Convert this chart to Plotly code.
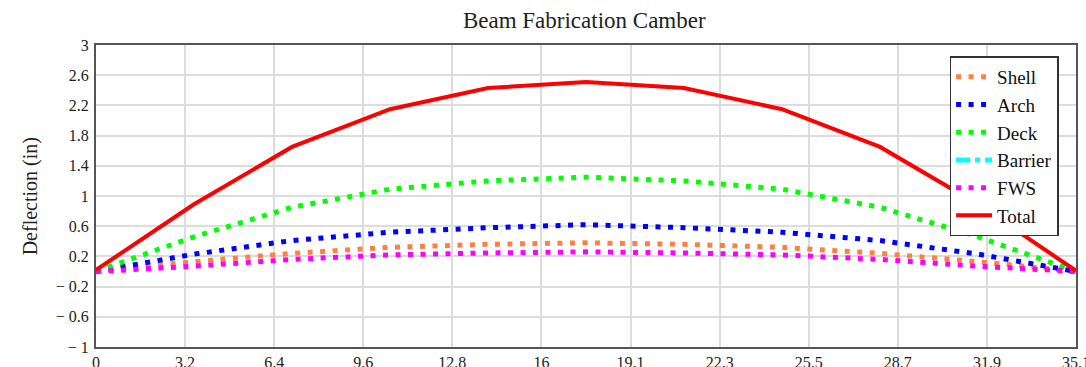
import plotly.graph_objects as go

# ---- data ----
stations = [0.0, 3.51, 7.02, 10.53, 14.04, 17.55, 21.06, 24.57, 28.08, 31.59, 35.1]
shell = [0.0, 0.13, 0.24, 0.32, 0.36, 0.38, 0.36, 0.32, 0.24, 0.13, 0.0]
arch = [0.0, 0.23, 0.41, 0.52, 0.58, 0.62, 0.58, 0.52, 0.41, 0.23, 0.0]
deck = [0.0, 0.46, 0.85, 1.09, 1.20, 1.25, 1.20, 1.09, 0.85, 0.46, 0.0]
barrier = [None] * 11
fws = [0.0, 0.07, 0.16, 0.22, 0.245, 0.26, 0.245, 0.22, 0.16, 0.07, 0.0]
total = [0.02, 0.89, 1.65, 2.15, 2.43, 2.51, 2.43, 2.15, 1.65, 0.89, 0.01]

x_tickvals = [i * 35.1 / 11 for i in range(12)]
x_ticktext = ["0", "3.2", "6.4", "9.6", "12.8", "16", "19.1", "22.3", "25.5", "28.7", "31.9", "35.1"]
y_tickvals = [3, 2.6, 2.2, 1.8, 1.4, 1, 0.6, 0.2, -0.2, -0.6, -1]
y_ticktext = ["3", "2.6", "2.2", "1.8", "1.4", "1", "0.6", "0.2", "\u2212 0.2", "\u2212 0.6", "\u2212 1"]

FONT = "Liberation Serif"
DOT = "5px,7.5px"

fig = go.Figure()
series = [
    ("Shell", shell, "#ff8040", DOT, 5),
    ("Arch", arch, "#0000ff", DOT, 5),
    ("Deck", deck, "#00ff00", DOT, 5),
    ("Barrier", barrier, "#00ffff", "14px,5px,5px,5px", 5),
    ("FWS", fws, "#ff00ff", DOT, 5),
    ("Total", total, "#ff0000", "solid", 4),
]
for name, vals, color, dash, w in series:
    fig.add_trace(go.Scatter(
        x=stations, y=vals, name=name, mode="lines",
        line=dict(color=color, width=w, dash=dash),
    ))

fig.update_layout(
    width=1086, height=367,
    margin=dict(l=96, r=10, t=45, b=20),
    paper_bgcolor="white", plot_bgcolor="white",
    font=dict(family=FONT, color="#222", size=15),
    title=dict(text="Beam Fabrication Camber", x=0.538, xanchor="center",
               y=0.945, yanchor="middle", font=dict(family=FONT, size=23, color="#222")),
    showlegend=True,
    legend=dict(x=0.871, y=0.962, xanchor="left", yanchor="top",
                bgcolor="white", bordercolor="#333", borderwidth=1.5,
                font=dict(family=FONT, size=19, color="#111"),
                itemwidth=36, tracegroupgap=0),
    annotations=[dict(text="Deflection (in)", xref="paper", yref="paper",
                      x=-0.067, y=0.5, xanchor="center", yanchor="middle",
                      textangle=-90, showarrow=False,
                      font=dict(family=FONT, size=20, color="#222"))],
)
fig.update_xaxes(
    range=[0, 35.1], tickvals=x_tickvals, ticktext=x_ticktext,
    showgrid=True, gridcolor="#dcdcdc", gridwidth=1.5,
    showline=True, linecolor="#555", linewidth=2, mirror=True,
    zeroline=False, ticks="", automargin=False, ticklabeloverflow="allow",
    tickfont=dict(family=FONT, size=16, color="#222"), ticklabelstandoff=0,
)
fig.update_yaxes(
    range=[-1, 3], tickvals=y_tickvals, ticktext=y_ticktext,
    showgrid=True, gridcolor="#dcdcdc", gridwidth=1.5,
    showline=True, linecolor="#555", linewidth=2, mirror=True,
    zeroline=False, ticks="", automargin=False,
    tickfont=dict(family=FONT, size=16, color="#222"),
    ticklabelstandoff=2,
)

fig.write_html("out.html", config={"displayModeBar": False},
               post_script="document.body.style.margin='0';")
